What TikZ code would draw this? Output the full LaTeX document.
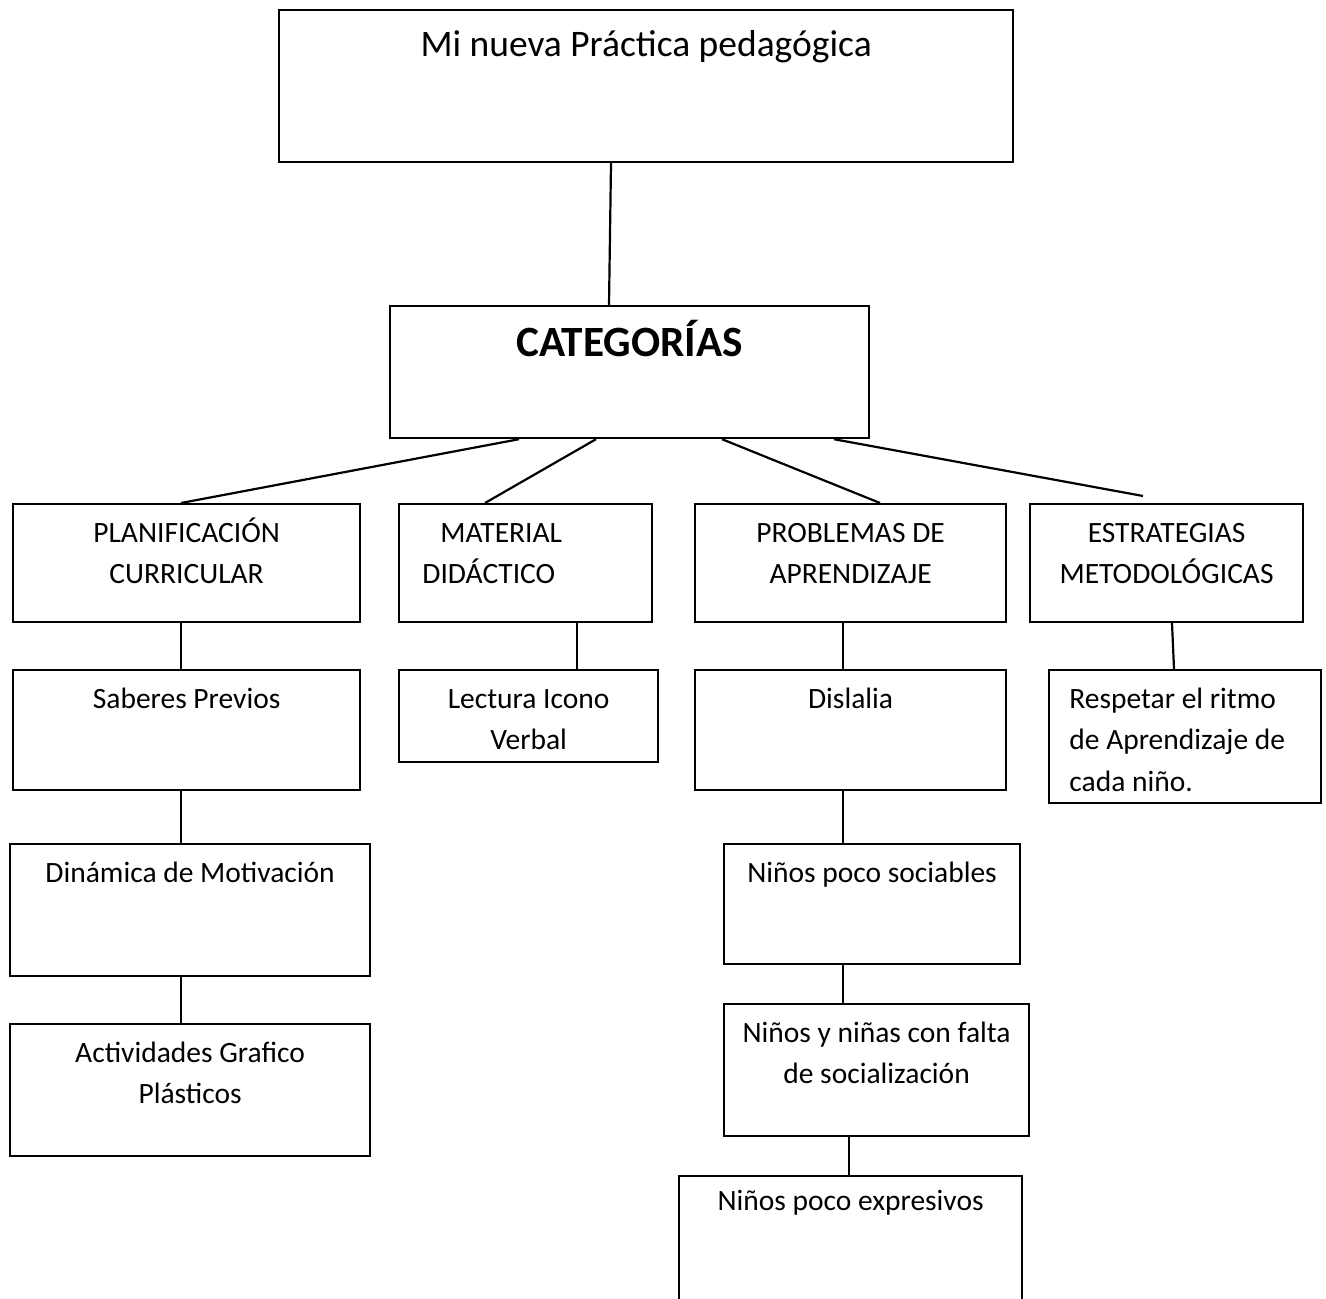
\documentclass[tikz,border=0pt]{standalone}
\usepackage{fontspec}
\setmainfont{Carlito}
\usetikzlibrary{positioning,calc}
\begin{document}
\begin{tikzpicture}[
		x=0.5pt,y=-0.5pt,
		box/.style={
			draw,
			rectangle,
			line width=1.1pt,
			anchor=north west,
			inner sep=0pt,
		},
		lbl/.style={
			anchor=base,
			inner sep=0pt,
			align=center,
			font=\fontsize{14.75}{20.75}\selectfont,
		},
		link/.style={line width=1.1pt},
		]
		\useasboundingbox (0,0) rectangle (1326,1299);
		% Draw the top boxes
		\node [box,minimum width=367pt,minimum height=76pt] (top) at (278,9) {};
		\node [box,minimum width=239.5pt,minimum height=66pt] (cat) at (389,305) {};
		% Draw the category boxes
		\node [box,minimum width=173.5pt,minimum height=59pt] (plan) at (12,503) {};
		\node [box,minimum width=126.5pt,minimum height=59pt] (mat) at (398,503) {};
		\node [box,minimum width=155.5pt,minimum height=59pt] (prob) at (694,503) {};
		\node [box,minimum width=136.5pt,minimum height=59pt] (estr) at (1029,503) {};
		% Draw the second row
		\node [box,minimum width=173.5pt,minimum height=60pt] (sab) at (12,669) {};
		\node [box,minimum width=129.5pt,minimum height=46pt] (lec) at (398,669) {};
		\node [box,minimum width=155.5pt,minimum height=60pt] (dis) at (694,669) {};
		\node [box,minimum width=136pt,minimum height=66.5pt] (resp) at (1048,669) {};
		% Draw the lower boxes
		\node [box,minimum width=180pt,minimum height=66pt] (din) at (9,843) {};
		\node [box,minimum width=180pt,minimum height=66pt] (act) at (9,1023) {};
		\node [box,minimum width=148pt,minimum height=60pt] (soc) at (723,843) {};
		\node [box,minimum width=152.5pt,minimum height=66pt] (falta) at (723,1003) {};
		\node [box,minimum width=171.5pt,minimum height=72.5pt] (expr) at (678,1175) {};
		% Draw the labels (base = last line)
		\node [lbl,font=\fontsize{18.75}{22}\selectfont] (topT) at ([yshift=-24pt]top.north) {Mi nueva Práctica pedagógica};
		\node [lbl,font=\fontsize{21.6}{24}\selectfont\bfseries] (catT) at ([yshift=-26pt]cat.north) {CATEGORÍAS};
		\node [lbl] (planT) at ([yshift=-40.25pt]plan.north) {PLANIFICACIÓN\\CURRICULAR};
		\node [lbl,anchor=base west,align=left] (matT) at ([xshift=12pt,yshift=-40.25pt]mat.north west) {\hspace*{9pt}MATERIAL\\DIDÁCTICO};
		\node [lbl] (probT) at ([yshift=-40.25pt]prob.north) {PROBLEMAS DE\\APRENDIZAJE};
		\node [lbl] (estrT) at ([yshift=-40.25pt]estr.north) {ESTRATEGIAS\\METODOLÓGICAS};
		\node [lbl] (sabT) at ([yshift=-19.5pt]sab.north) {Saberes Previos};
		\node [lbl] (lecT) at ([yshift=-40.25pt]lec.north) {Lectura Icono\\Verbal};
		\node [lbl] (disT) at ([yshift=-19.5pt]dis.north) {Dislalia};
		\node [lbl,anchor=base west,align=left] (respT) at ([xshift=10.5pt,yshift=-61pt]resp.north west) {Respetar el ritmo\\de Aprendizaje de\\cada niño.};
		\node [lbl] (dinT) at ([yshift=-19.5pt]din.north) {Dinámica de Motivación};
		\node [lbl] (actT) at ([yshift=-40.25pt]act.north) {Actividades Grafico\\Plásticos};
		\node [lbl] (socT) at ([yshift=-19.5pt]soc.north) {Niños poco sociables};
		\node [lbl] (faltaT) at ([yshift=-40.25pt]falta.north) {Niños y niñas con falta\\de socialización};
		\node [lbl] (exprT) at ([yshift=-17.8pt]expr.north) {Niños poco expresivos};
		% Draw the connectors
		\draw[link] (top.south -| 611,0) -- (cat.north -| 609,0);
		\draw[link] (cat.south -| 519,0) -- (plan.north -| 181,0);
		\draw[link] (cat.south -| 596,0) -- (mat.north -| 485,0);
		\draw[link] (cat.south -| 722,0) -- (prob.north -| 880,0);
		\draw[link] (cat.south -| 834,0) -- ($(estr.north -| 1143,0)+(0,-7)$);
		\draw[link] (plan.south -| 181,0) -- (sab.north -| 181,0);
		\draw[link] (mat.south -| 577,0) -- (lec.north -| 577,0);
		\draw[link] (prob.south -| 843,0) -- (dis.north -| 843,0);
		\draw[link] (estr.south -| 1172,0) -- (resp.north -| 1174,0);
		\draw[link] (sab.south -| 181,0) -- (din.north -| 181,0);
		\draw[link] (din.south -| 181,0) -- (act.north -| 181,0);
		\draw[link] (dis.south -| 843,0) -- (soc.north -| 843,0);
		\draw[link] (soc.south -| 843,0) -- (falta.north -| 843,0);
		\draw[link] (falta.south -| 849,0) -- (expr.north -| 849,0);
	\end{tikzpicture}
\end{document}
